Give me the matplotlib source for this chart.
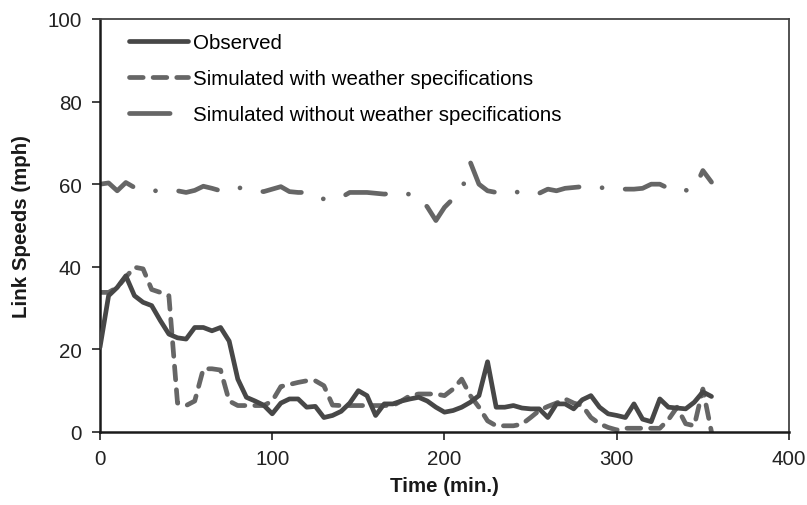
import matplotlib
matplotlib.use("Agg")
import matplotlib.pyplot as plt
import numpy as np

plt.rcParams['font.family'] = ['Liberation Sans', 'DejaVu Sans']

# time in minutes, 5-min steps
time = np.arange(0, 360, 5)

observed = [20.5, 33, 35, 37.8, 33, 31.4, 30.6, 27, 23.7, 22.8,
            22.5, 25.3, 25.3, 24.5, 25.3, 22, 12.8, 8.4, 7.5, 6.5,
            4.4, 7, 8, 8, 6, 6.2, 3.5, 4, 5, 7,
            10, 8.8, 4, 6.8, 6.8, 7.5, 8, 8.4, 7.5, 6,
            4.8, 5.2, 6, 7.2, 8.8, 17, 6, 6, 6.4, 5.8,
            5.6, 5.6, 3.5, 6.8, 6.8, 5.6, 7.8, 8.8, 6, 4.4,
            4, 3.5, 6.8, 3.1, 2.5, 8, 6, 5.8, 5.6, 7.2,
            9.7, 8.6]

sim_weather = [33.8, 33.8, 35, 37.5, 39.9, 39.5, 34.5, 33.8, 33, 7,
               6.4, 7.5, 15.3, 15.3, 15, 7.5, 6.4, 6.4, 6.4, 6.4,
               7.5, 11, 11.5, 12, 12.4, 12.4, 11.2, 6.5, 6.4, 6.4,
               6.4, 6.4, 6.4, 6.4, 6.4, 7.5, 8.8, 9.2, 9.2, 9.2,
               8.8, 10.4, 12.8, 8.8, 6, 2.7, 1.5, 1.5, 1.5, 1.9,
               3.5, 5.2, 6.2, 7, 8, 7, 6.4, 3.5, 2, 1.1,
               0.5, 0.9, 0.9, 0.9, 0.9, 0.9, 3, 6, 2, 1.5,
               10.4, 0]

sim_no_weather = [60, 60.3, 58.4, 60.4, 59.2, 58.5, 58.4, 58.4, 58.4, 58.4,
                  58, 58.5, 59.5, 59, 58.4, 58.5, 59.2, 58.8, 58.4, 58.2,
                  58.8, 59.4, 58.2, 58, 58, 57, 56.4, 56.6, 56.8, 58,
                  58, 58, 57.8, 57.6, 57.8, 58, 57.5, 57, 54.5, 51.2,
                  54.4, 56.5, 58.5, 65.3, 60, 58.4, 58, 57.6, 58, 58.2,
                  58.4, 57.8, 58.8, 58.4, 59, 59.2, 59.4, 59.5, 59.2, 59,
                  58.8, 58.8, 58.8, 59, 60, 60, 59, 58.2, 58.5, 58.8,
                  63.3, 60.5]

fig = plt.figure(figsize=(8.07, 5.06), dpi=100)
ax = fig.add_axes([0.1239, 0.1443, 0.8538, 0.8162])

lw = 3.4
ax.plot(time, observed, color='#474747', lw=lw, solid_capstyle='round',
        solid_joinstyle='round', label='Observed', zorder=3)
ax.plot(time, sim_weather, color='#666666', lw=lw, linestyle=(0, (2.9, 2.1)),
        dash_capstyle='round', dash_joinstyle='round',
        label='Simulated with weather specifications', zorder=2)
ax.plot(time, sim_no_weather, color='#666666', lw=lw,
        linestyle=(0, (8.6, 4.9, 0.01, 4.9)),
        dash_capstyle='round', dash_joinstyle='round',
        label='Simulated without weather specifications', zorder=2)

ax.set_xlim(0, 400)
ax.set_ylim(0, 100)
ax.set_xticks([0, 100, 200, 300, 400])
ax.set_yticks([0, 20, 40, 60, 80, 100])
ax.tick_params(direction='out', length=6, width=1.2, labelsize=14.8,
               colors='#222222')
ax.tick_params(axis='y', pad=7)
ax.tick_params(axis='x', pad=6)
for s in ['left', 'bottom']:
    ax.spines[s].set_linewidth(1.8)
    ax.spines[s].set_color('#1a1a1a')
for s in ['top', 'right']:
    ax.spines[s].set_linewidth(1.3)
    ax.spines[s].set_color('#444444')

ax.set_xlabel('Time (min.)', fontsize=14.8, fontweight='bold',
              color='#1a1a1a', labelpad=6)
ax.set_ylabel('Link Speeds (mph)', fontsize=14.8, fontweight='bold',
              color='#1a1a1a', labelpad=12)

ax.legend(loc='upper left', bbox_to_anchor=(0.015, 1.01), frameon=False,
          fontsize=14.8, handlelength=2.9, handletextpad=0.2,
          labelspacing=0.82)

fig.savefig('out.png', dpi=100)
